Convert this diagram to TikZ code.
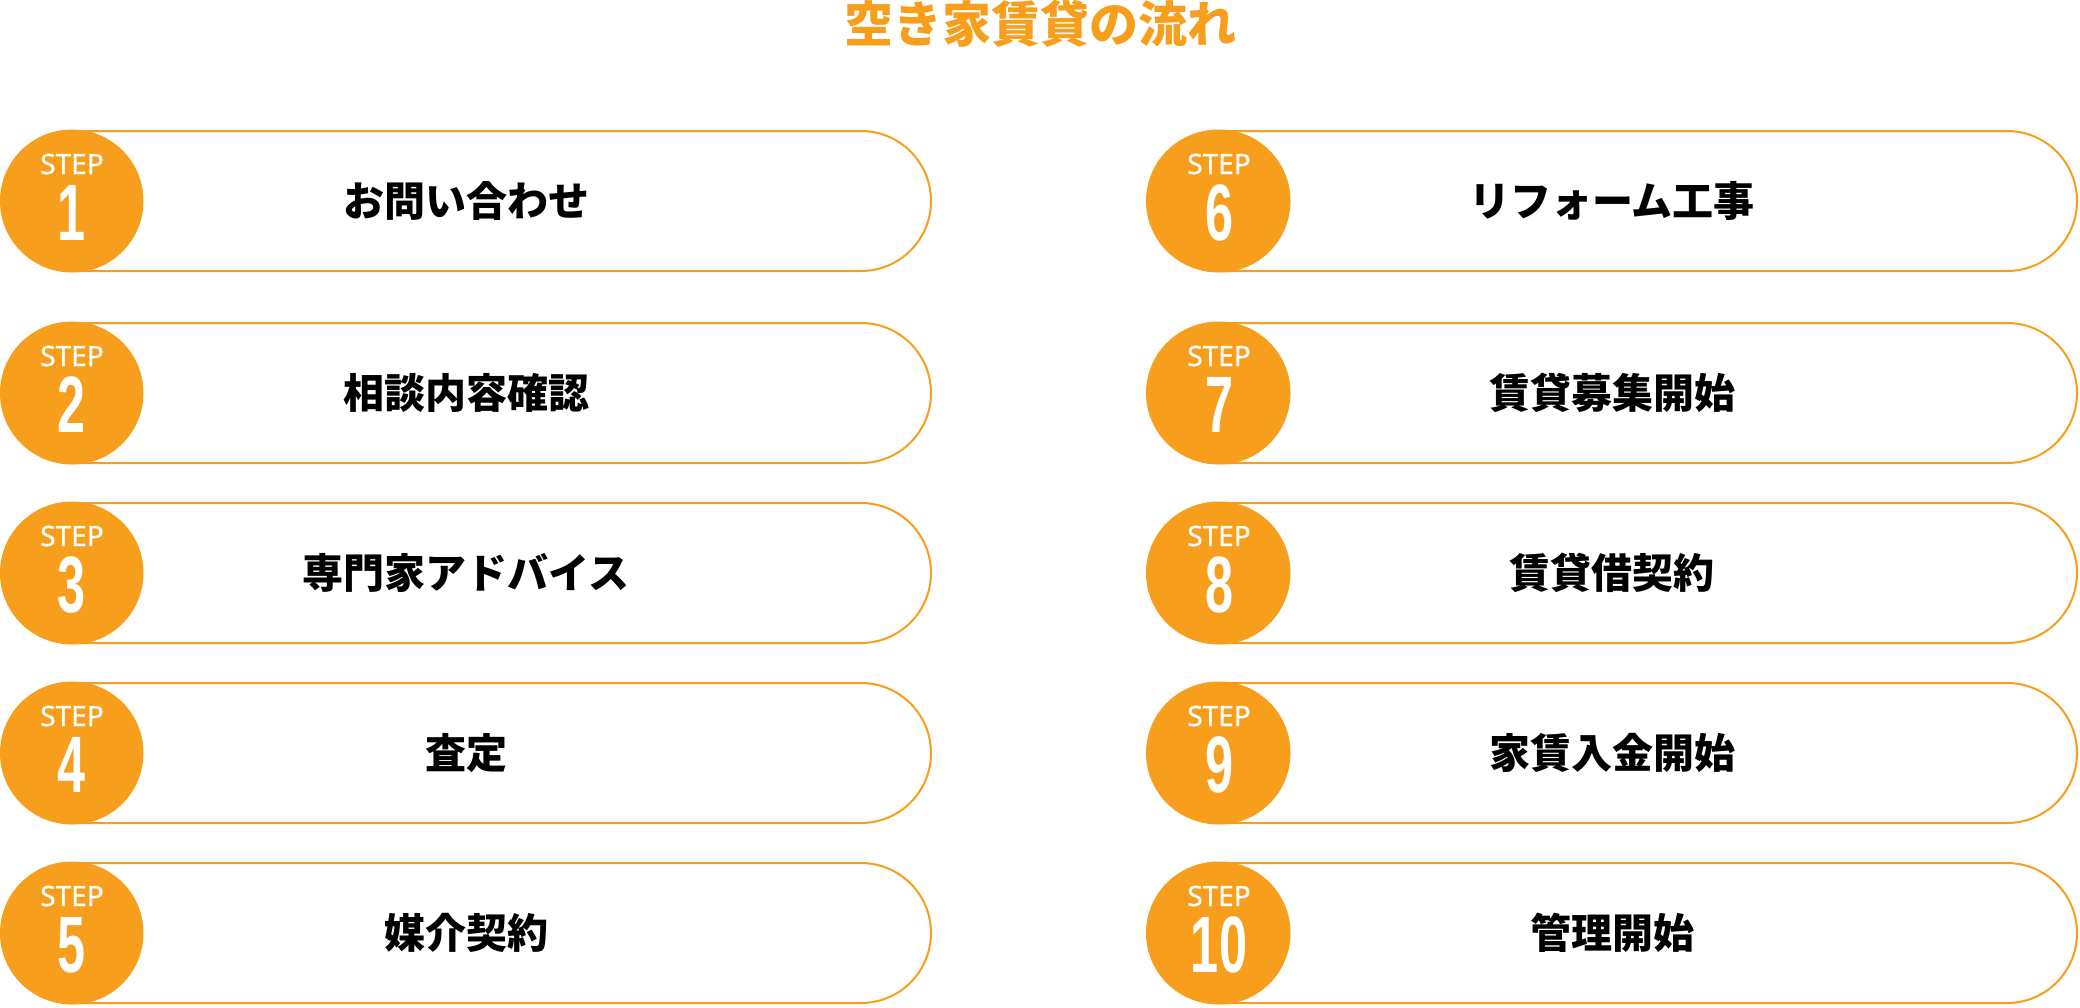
\documentclass[tikz,border=0pt]{standalone}
\usepackage{fontspec}
\usetikzlibrary{shapes.misc}
\newfontfamily\jpfont{Noto Sans CJK JP}
\newfontfamily\stepfont[FakeBold=0.8]{Noto Sans}
\newfontfamily\numfont[FakeStretch=0.63]{Liberation Sans}
\definecolor{flow}{RGB}{248,158,29}

\tikzstyle{pill}=[draw=flow,line width=2pt,fill=white,shape=rounded rectangle,minimum width=930pt,minimum height=140pt,inner sep=0pt,font=\jpfont\bfseries\fontsize{41}{41}\selectfont]
\tikzstyle{badge}=[shape=circle,fill=flow,text=white,minimum size=143pt,inner sep=0pt,text height=79pt,text depth=0pt,font=\numfont\bfseries\fontsize{80}{80}\selectfont,label={[text=white,font=\stepfont\fontsize{28}{28}\selectfont,text height=20pt,text depth=0pt,inner sep=0pt,yshift=37pt]center:STEP}]

\begin{document}
\begin{tikzpicture}[x=1pt,y=-1pt]
\useasboundingbox (0,0) rectangle (2080,1007);
\node[font=\jpfont\bfseries\fontsize{49}{49}\selectfont,text=flow] at (1040,24) (title) {空き家賃貸の流れ};
% left column
\node[pill]  at ( 466,201) (p1) {お問い合わせ};
\node[badge] at (  72,201) (s1) {1};
\node[pill]  at ( 466,393) (p2) {相談内容確認};
\node[badge] at (  72,393) (s2) {2};
\node[pill]  at ( 466,573) (p3) {専門家アドバイス};
\node[badge] at (  72,573) (s3) {3};
\node[pill]  at ( 466,753) (p4) {査定};
\node[badge] at (  72,753) (s4) {4};
\node[pill]  at ( 466,933) (p5) {媒介契約};
\node[badge] at (  72,933) (s5) {5};
% right column
\node[pill]  at (1612,201) (p6) {リフォーム工事};
\node[badge] at (1219,201) (s6) {6};
\node[pill]  at (1612,393) (p7) {賃貸募集開始};
\node[badge] at (1219,393) (s7) {7};
\node[pill]  at (1612,573) (p8) {賃貸借契約};
\node[badge] at (1219,573) (s8) {8};
\node[pill]  at (1612,753) (p9) {家賃入金開始};
\node[badge] at (1219,753) (s9) {9};
\node[pill]  at (1612,933) (p10) {管理開始};
\node[badge] at (1219,933) (s10) {10};
\end{tikzpicture}
\end{document}
